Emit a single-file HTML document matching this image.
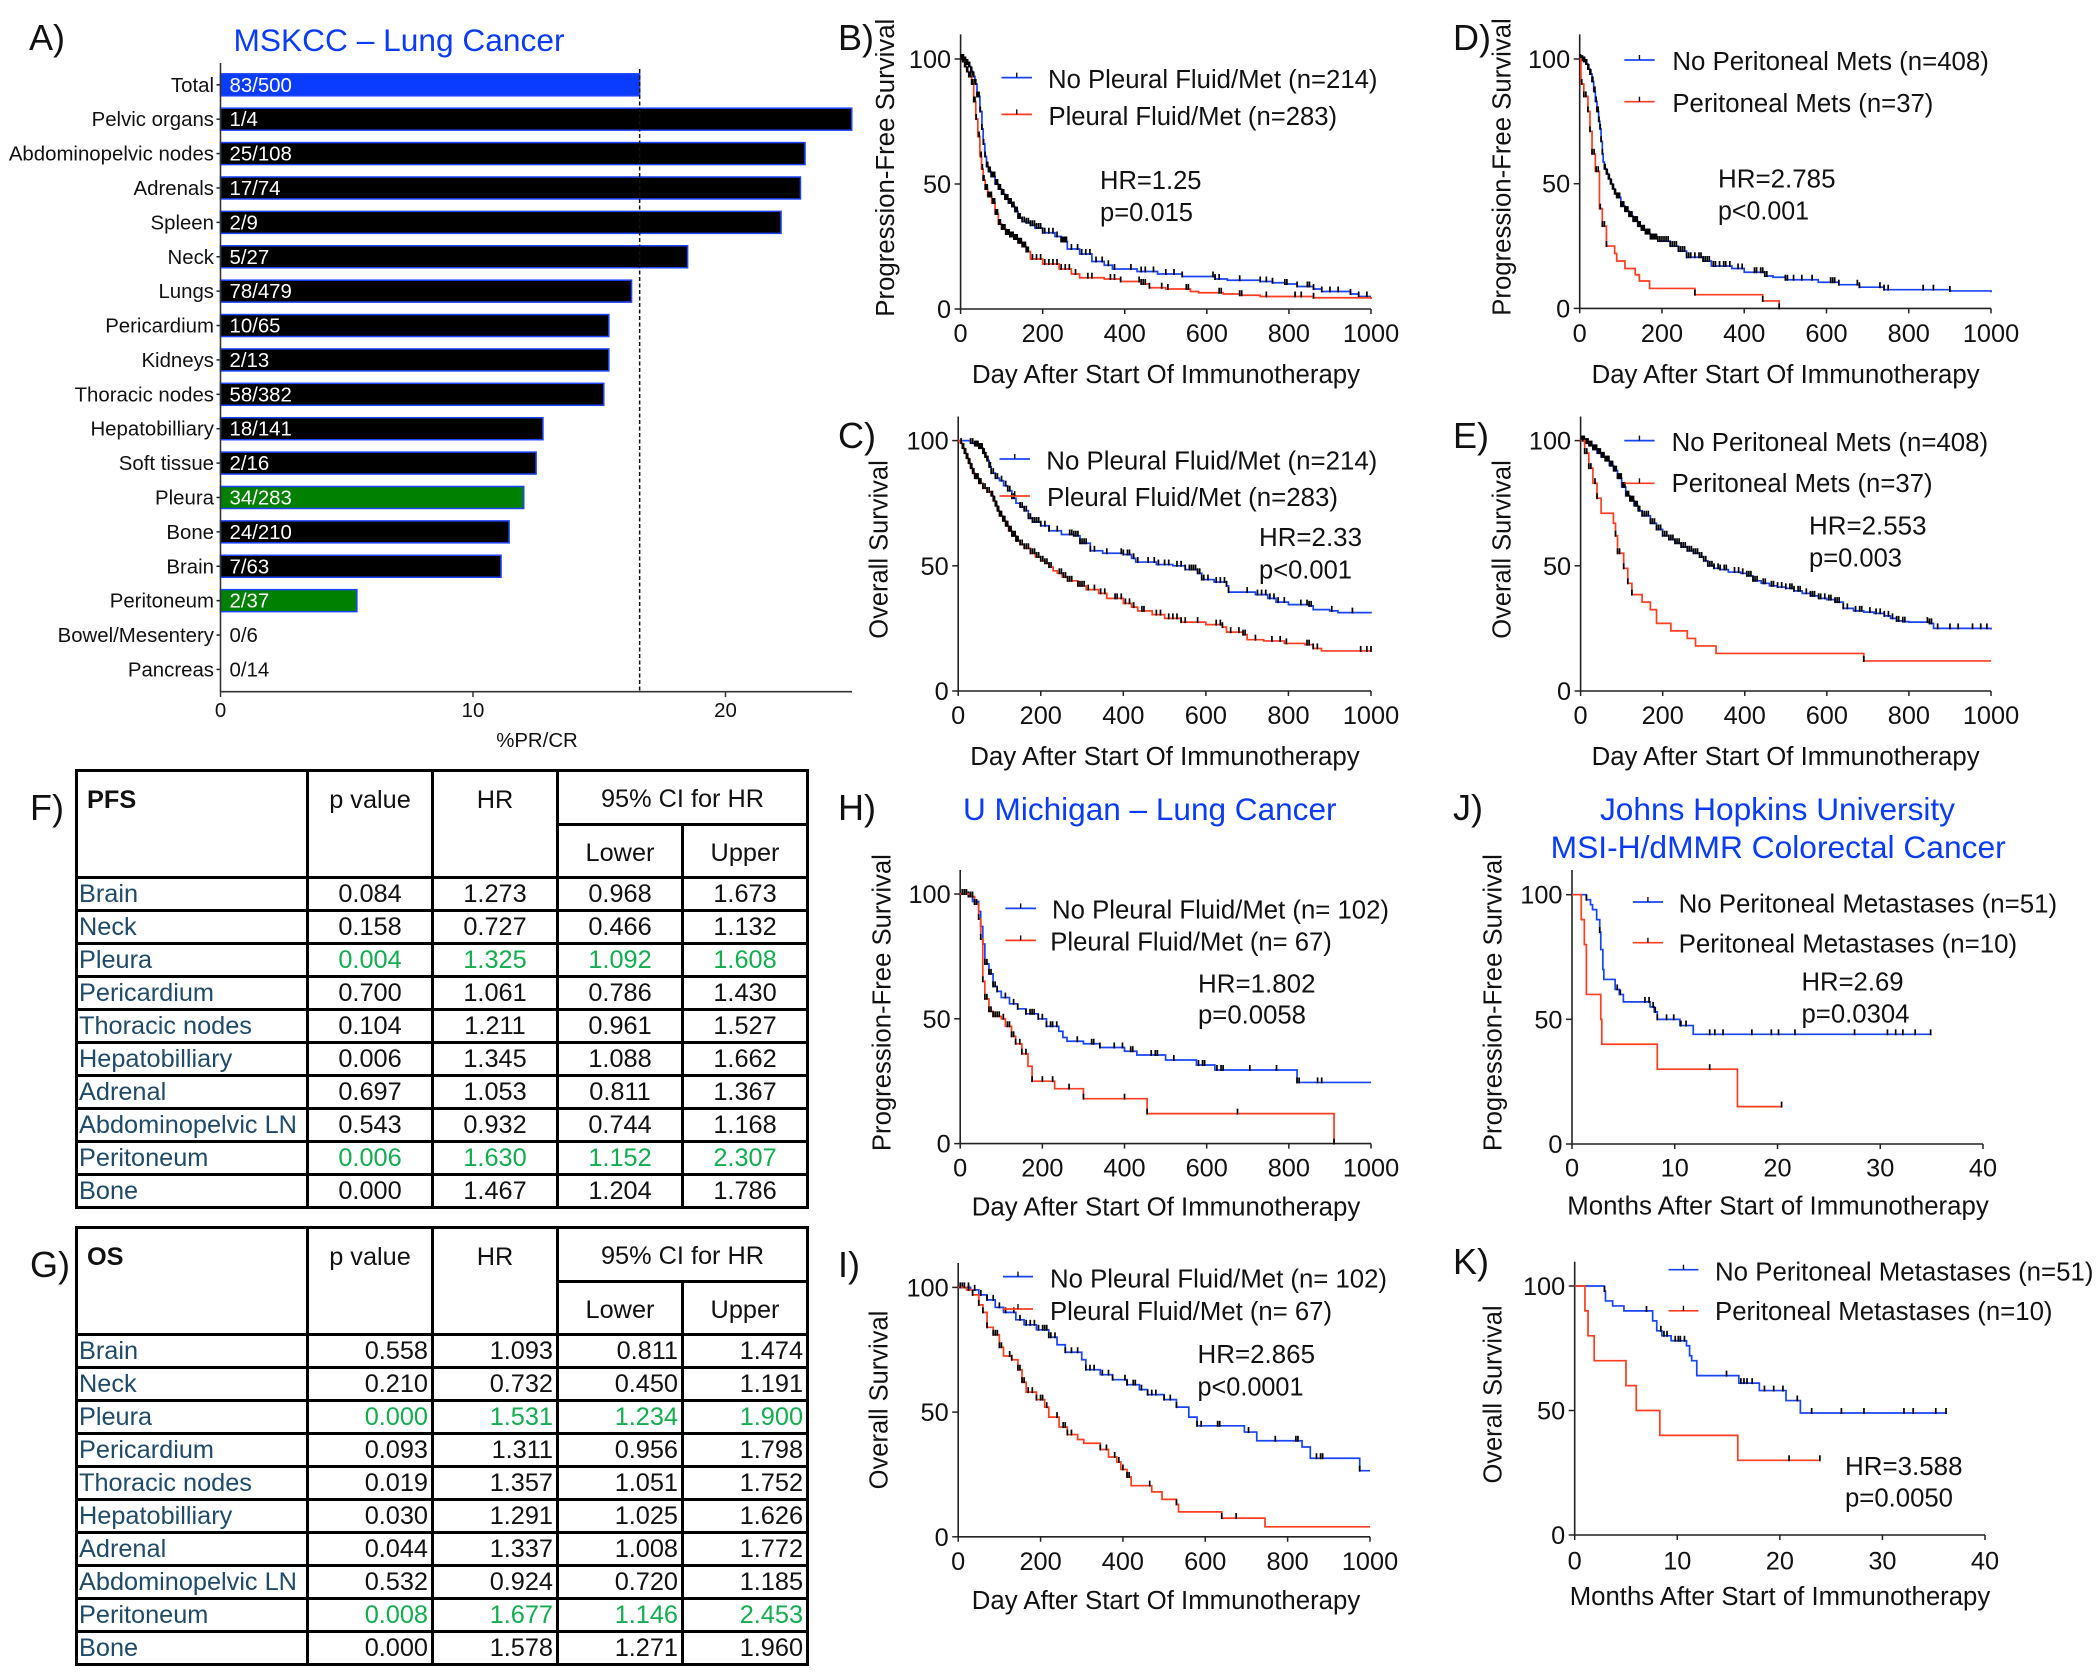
<!DOCTYPE html>
<html lang="en">
<head>
<meta charset="utf-8">
<title>Survival and response by metastatic site</title>
<style>
html,body{margin:0;padding:0;background:#fff}
#page{position:relative;width:2100px;height:1675px;overflow:hidden;background:#fff;font-family:"Liberation Sans",Arial,sans-serif}
#figure{position:absolute;left:0;top:0}
#figure text{font-family:"Liberation Sans",Arial,sans-serif;fill:#111}
#figure .blue-title{fill:#0a3cf5}
#figure .letter{font-size:36px}
#figure .t25{font-size:25.5px}
table.stat{position:absolute;border-collapse:collapse;table-layout:fixed;border:3.5px solid #000;font-size:25.3px;color:#111;background:#fff}
table.stat td{border:3px solid #000;padding:0;line-height:25px;overflow:hidden;white-space:nowrap;text-align:center;vertical-align:middle;box-sizing:border-box}
table.stat td.l{text-align:left;padding-left:1px;color:#1f4a68}
table.stat td.g{color:#12ad4f}
table.stat td.hd{vertical-align:top;padding-top:16px}
table.stat td.nm{font-weight:bold;text-align:left;padding-left:9px}
table.stat td.sub{padding-top:5px}
table.stat tr.r td{padding-top:2px}
table.stat.right tr.r td:not(.l){text-align:right;padding-right:3px}
</style>
</head>
<body>
<div id="page">
<svg id="figure" width="2100" height="1675" viewBox="0 0 2100 1675">
  <g>
    <text class="letter" x="29" y="50">A)</text>
    <text class="letter" x="838" y="50">B)</text>
    <text class="letter" x="838" y="448">C)</text>
    <text class="letter" x="1453" y="50">D)</text>
    <text class="letter" x="1453" y="448">E)</text>
    <text class="letter" x="30" y="820">F)</text>
    <text class="letter" x="30" y="1277">G)</text>
    <text class="letter" x="838" y="820">H)</text>
    <text class="letter" x="838" y="1277">I)</text>
    <text class="letter" x="1453" y="820">J)</text>
    <text class="letter" x="1453" y="1274">K)</text>
  </g>

  <text class="blue-title" x="233.5" y="51" font-size="31.5" textLength="331" lengthAdjust="spacingAndGlyphs">MSKCC – Lung Cancer</text>
  <text class="blue-title" x="963" y="820" font-size="31.5" textLength="373.5" lengthAdjust="spacingAndGlyphs">U Michigan – Lung Cancer</text>
  <text class="blue-title" x="1600" y="820" font-size="31.5" textLength="355" lengthAdjust="spacingAndGlyphs">Johns Hopkins University</text>
  <text class="blue-title" x="1550.7" y="858" font-size="31.5" textLength="455" lengthAdjust="spacingAndGlyphs">MSI-H/dMMR Colorectal Cancer</text>

  <g id="panel-a">
    <text x="537" y="747" font-size="20.4" text-anchor="middle">%PR/CR</text>
  </g>

  <g id="panel-b">
    <text class="t25" transform="translate(894,167.7) rotate(-90)" text-anchor="middle" textLength="298" lengthAdjust="spacingAndGlyphs">Progression-Free Survival</text>
    <text class="t25" x="1166" y="383" text-anchor="middle" textLength="388" lengthAdjust="spacingAndGlyphs">Day After Start Of Immunotherapy</text>
    <text class="t25" x="1048" y="88" textLength="329.5" lengthAdjust="spacingAndGlyphs">No Pleural Fluid/Met (n=214)</text>
    <text class="t25" x="1048.5" y="125" textLength="288.5" lengthAdjust="spacingAndGlyphs">Pleural Fluid/Met (n=283)</text>
    <text class="t25" x="1100" y="189" textLength="101.5" lengthAdjust="spacingAndGlyphs">HR=1.25</text>
    <text class="t25" x="1100" y="221" textLength="93" lengthAdjust="spacingAndGlyphs">p=0.015</text>
  </g>

  <g id="panel-c">
    <text class="t25" transform="translate(887.4,549.5) rotate(-90)" text-anchor="middle" textLength="178.5" lengthAdjust="spacingAndGlyphs">Overall Survival</text>
    <text class="t25" x="1165" y="765" text-anchor="middle" textLength="389.5" lengthAdjust="spacingAndGlyphs">Day After Start Of Immunotherapy</text>
    <text class="t25" x="1046.3" y="469.5" textLength="331" lengthAdjust="spacingAndGlyphs">No Pleural Fluid/Met (n=214)</text>
    <text class="t25" x="1047" y="506" textLength="291" lengthAdjust="spacingAndGlyphs">Pleural Fluid/Met (n=283)</text>
    <text class="t25" x="1259" y="546" textLength="103" lengthAdjust="spacingAndGlyphs">HR=2.33</text>
    <text class="t25" x="1259" y="578.6" textLength="93" lengthAdjust="spacingAndGlyphs">p&lt;0.001</text>
  </g>

  <g id="panel-d">
    <text class="t25" transform="translate(1510.7,167) rotate(-90)" text-anchor="middle" textLength="297.5" lengthAdjust="spacingAndGlyphs">Progression-Free Survival</text>
    <text class="t25" x="1785.6" y="383" text-anchor="middle" textLength="388" lengthAdjust="spacingAndGlyphs">Day After Start Of Immunotherapy</text>
    <text class="t25" x="1672.4" y="70" textLength="316.5" lengthAdjust="spacingAndGlyphs">No Peritoneal Mets (n=408)</text>
    <text class="t25" x="1672.4" y="112" textLength="261" lengthAdjust="spacingAndGlyphs">Peritoneal Mets (n=37)</text>
    <text class="t25" x="1718" y="187.6" textLength="117.5" lengthAdjust="spacingAndGlyphs">HR=2.785</text>
    <text class="t25" x="1718" y="219.5" textLength="91" lengthAdjust="spacingAndGlyphs">p&lt;0.001</text>
  </g>

  <g id="panel-e">
    <text class="t25" transform="translate(1510.7,549.5) rotate(-90)" text-anchor="middle" textLength="178.5" lengthAdjust="spacingAndGlyphs">Overall Survival</text>
    <text class="t25" x="1785.6" y="765" text-anchor="middle" textLength="388" lengthAdjust="spacingAndGlyphs">Day After Start Of Immunotherapy</text>
    <text class="t25" x="1671.6" y="451" textLength="316.5" lengthAdjust="spacingAndGlyphs">No Peritoneal Mets (n=408)</text>
    <text class="t25" x="1671.6" y="492" textLength="261" lengthAdjust="spacingAndGlyphs">Peritoneal Mets (n=37)</text>
    <text class="t25" x="1809" y="534.5" textLength="117.5" lengthAdjust="spacingAndGlyphs">HR=2.553</text>
    <text class="t25" x="1809" y="566.5" textLength="93" lengthAdjust="spacingAndGlyphs">p=0.003</text>
  </g>

  <g id="panel-h">
    <text class="t25" transform="translate(890.6,1002.6) rotate(-90)" text-anchor="middle" textLength="297" lengthAdjust="spacingAndGlyphs">Progression-Free Survival</text>
    <text class="t25" x="1166" y="1215.5" text-anchor="middle" textLength="388.5" lengthAdjust="spacingAndGlyphs">Day After Start Of Immunotherapy</text>
    <text class="t25" x="1052" y="918.7" textLength="337" lengthAdjust="spacingAndGlyphs">No Pleural Fluid/Met (n= 102)</text>
    <text class="t25" x="1050.3" y="950.7" textLength="281.5" lengthAdjust="spacingAndGlyphs">Pleural Fluid/Met (n= 67)</text>
    <text class="t25" x="1198" y="992.3" textLength="117.5" lengthAdjust="spacingAndGlyphs">HR=1.802</text>
    <text class="t25" x="1198" y="1023.7" textLength="108" lengthAdjust="spacingAndGlyphs">p=0.0058</text>
  </g>

  <g id="panel-i">
    <text class="t25" transform="translate(887.4,1400) rotate(-90)" text-anchor="middle" textLength="178.7" lengthAdjust="spacingAndGlyphs">Overall Survival</text>
    <text class="t25" x="1166" y="1609" text-anchor="middle" textLength="388.5" lengthAdjust="spacingAndGlyphs">Day After Start Of Immunotherapy</text>
    <text class="t25" x="1050" y="1287.4" textLength="337" lengthAdjust="spacingAndGlyphs">No Pleural Fluid/Met (n= 102)</text>
    <text class="t25" x="1050" y="1320" textLength="282" lengthAdjust="spacingAndGlyphs">Pleural Fluid/Met (n= 67)</text>
    <text class="t25" x="1197.5" y="1363" textLength="117.5" lengthAdjust="spacingAndGlyphs">HR=2.865</text>
    <text class="t25" x="1197.5" y="1395.3" textLength="106" lengthAdjust="spacingAndGlyphs">p&lt;0.0001</text>
  </g>

  <g id="panel-j">
    <text class="t25" transform="translate(1501.4,1002.6) rotate(-90)" text-anchor="middle" textLength="297" lengthAdjust="spacingAndGlyphs">Progression-Free Survival</text>
    <text class="t25" x="1778" y="1214.5" text-anchor="middle" textLength="421.5" lengthAdjust="spacingAndGlyphs">Months After Start of Immunotherapy</text>
    <text class="t25" x="1678.6" y="912.5" textLength="378.5" lengthAdjust="spacingAndGlyphs">No Peritoneal Metastases (n=51)</text>
    <text class="t25" x="1678.6" y="952.5" textLength="338.5" lengthAdjust="spacingAndGlyphs">Peritoneal Metastases (n=10)</text>
    <text class="t25" x="1801.5" y="990.6" textLength="102" lengthAdjust="spacingAndGlyphs">HR=2.69</text>
    <text class="t25" x="1801.5" y="1022.6" textLength="108" lengthAdjust="spacingAndGlyphs">p=0.0304</text>
  </g>

  <g id="panel-k">
    <text class="t25" transform="translate(1501.4,1394.5) rotate(-90)" text-anchor="middle" textLength="178" lengthAdjust="spacingAndGlyphs">Overall Survival</text>
    <text class="t25" x="1780" y="1605" text-anchor="middle" textLength="420.5" lengthAdjust="spacingAndGlyphs">Months After Start of Immunotherapy</text>
    <text class="t25" x="1715" y="1280.5" textLength="378.5" lengthAdjust="spacingAndGlyphs">No Peritoneal Metastases (n=51)</text>
    <text class="t25" x="1715" y="1320" textLength="337.5" lengthAdjust="spacingAndGlyphs">Peritoneal Metastases (n=10)</text>
    <text class="t25" x="1845" y="1475" textLength="117.5" lengthAdjust="spacingAndGlyphs">HR=3.588</text>
    <text class="t25" x="1845" y="1506.6" textLength="108" lengthAdjust="spacingAndGlyphs">p=0.0050</text>
  </g>
</svg>

<table class="stat" style="left:75px;top:768.5px;width:731px">
<colgroup><col style="width:231px"><col style="width:125px"><col style="width:125px"><col style="width:125px"><col style="width:125px"></colgroup>
<tr style="height:54px"><td class="hd nm" rowspan="2">PFS</td><td class="hd" rowspan="2">p value</td><td class="hd" rowspan="2">HR</td><td colspan="2" class="sub">95% CI for HR</td></tr>
<tr style="height:53px"><td class="sub">Lower</td><td class="sub">Upper</td></tr>
<tr class="r" style="height:33px"><td class="l">Brain</td><td>0.084</td><td>1.273</td><td>0.968</td><td>1.673</td></tr>
<tr class="r" style="height:33px"><td class="l">Neck</td><td>0.158</td><td>0.727</td><td>0.466</td><td>1.132</td></tr>
<tr class="r" style="height:33px"><td class="l">Pleura</td><td class="g">0.004</td><td class="g">1.325</td><td class="g">1.092</td><td class="g">1.608</td></tr>
<tr class="r" style="height:33px"><td class="l">Pericardium</td><td>0.700</td><td>1.061</td><td>0.786</td><td>1.430</td></tr>
<tr class="r" style="height:33px"><td class="l">Thoracic nodes</td><td>0.104</td><td>1.211</td><td>0.961</td><td>1.527</td></tr>
<tr class="r" style="height:33px"><td class="l">Hepatobilliary</td><td>0.006</td><td>1.345</td><td>1.088</td><td>1.662</td></tr>
<tr class="r" style="height:33px"><td class="l">Adrenal</td><td>0.697</td><td>1.053</td><td>0.811</td><td>1.367</td></tr>
<tr class="r" style="height:33px"><td class="l">Abdominopelvic LN</td><td>0.543</td><td>0.932</td><td>0.744</td><td>1.168</td></tr>
<tr class="r" style="height:33px"><td class="l">Peritoneum</td><td class="g">0.006</td><td class="g">1.630</td><td class="g">1.152</td><td class="g">2.307</td></tr>
<tr class="r" style="height:33px"><td class="l">Bone</td><td>0.000</td><td>1.467</td><td>1.204</td><td>1.786</td></tr>
</table>

<table class="stat right" style="left:75px;top:1225.5px;width:731px">
<colgroup><col style="width:231px"><col style="width:125px"><col style="width:125px"><col style="width:125px"><col style="width:125px"></colgroup>
<tr style="height:54px"><td class="hd nm" rowspan="2">OS</td><td class="hd" rowspan="2">p value</td><td class="hd" rowspan="2">HR</td><td colspan="2" class="sub">95% CI for HR</td></tr>
<tr style="height:53px"><td class="sub">Lower</td><td class="sub">Upper</td></tr>
<tr class="r" style="height:33px"><td class="l">Brain</td><td>0.558</td><td>1.093</td><td>0.811</td><td>1.474</td></tr>
<tr class="r" style="height:33px"><td class="l">Neck</td><td>0.210</td><td>0.732</td><td>0.450</td><td>1.191</td></tr>
<tr class="r" style="height:33px"><td class="l">Pleura</td><td class="g">0.000</td><td class="g">1.531</td><td class="g">1.234</td><td class="g">1.900</td></tr>
<tr class="r" style="height:33px"><td class="l">Pericardium</td><td>0.093</td><td>1.311</td><td>0.956</td><td>1.798</td></tr>
<tr class="r" style="height:33px"><td class="l">Thoracic nodes</td><td>0.019</td><td>1.357</td><td>1.051</td><td>1.752</td></tr>
<tr class="r" style="height:33px"><td class="l">Hepatobilliary</td><td>0.030</td><td>1.291</td><td>1.025</td><td>1.626</td></tr>
<tr class="r" style="height:33px"><td class="l">Adrenal</td><td>0.044</td><td>1.337</td><td>1.008</td><td>1.772</td></tr>
<tr class="r" style="height:33px"><td class="l">Abdominopelvic LN</td><td>0.532</td><td>0.924</td><td>0.720</td><td>1.185</td></tr>
<tr class="r" style="height:33px"><td class="l">Peritoneum</td><td class="g">0.008</td><td class="g">1.677</td><td class="g">1.146</td><td class="g">2.453</td></tr>
<tr class="r" style="height:33px"><td class="l">Bone</td><td>0.000</td><td>1.578</td><td>1.271</td><td>1.960</td></tr>
</table>
</div>

<script>
// ---- Panel A data ----
const barCategories = ["Total","Pelvic organs","Abdominopelvic nodes","Adrenals","Spleen","Neck","Lungs","Pericardium","Kidneys","Thoracic nodes","Hepatobilliary","Soft tissue","Pleura","Bone","Brain","Peritoneum","Bowel/Mesentery","Pancreas"];
const barCounts = ["83/500","1/4","25/108","17/74","2/9","5/27","78/479","10/65","2/13","58/382","18/141","2/16","34/283","24/210","7/63","2/37","0/6","0/14"];
const barValues = [16.6,25,23.15,22.97,22.2,18.5,16.28,15.38,15.38,15.18,12.77,12.5,12.01,11.43,11.11,5.4,0,0];
const barGroups = ["total","site","site","site","site","site","site","site","site","site","site","site","highlight","site","site","highlight","site","site"];
const barTickLabels = [0,10,20];
const overallResponse = 16.6;

// ---- Kaplan-Meier axes ----
const dayTicks = [0,200,400,600,800,1000];
const monthTicks = [0,10,20,30,40];
const survivalTicks = [0,50,100];

// ---- Panel B ----
const bBlueTime = [5,10,15,20,25,30,35,40,47,52,55,59,63,68,74,84,92,100,108,116,125,132,140,150,160,170,181,200,230,245,260,290,320,350,370,430,480,540,620,650,730,760,790,820,860,880,950,970,1000];
const bBlueSurv = [100,99,98,97,95,93,90,85,79,72,66,61,57,55,53,50,48,46,44,42.4,41,39,36.4,35,34.5,33.5,32.4,30.5,29,27,24,22,19,17.5,16,15,14,13,12,11.5,11,10.5,10,9,8,7,6,5,5];
const bBlueCensor = [2,5,7,10,12,15,17,20,22,25,27,30,32,35,37,40,42,45,48,52,56,60,64,66,68,70,72,75,78,80,83,85,88,90,92,95,97,100,102,105,108,110,112,115,118,120,123,125,128,130,133,135,138,140,143,145,150,155,160,165,170,175,180,185,190,195,200,205,215,225,235,245,248,250,253,255,258,270,285,295,305,315,330,345,360,375,415,440,450,470,500,520,540,615,620,630,680,730,745,760,790,795,820,845,850,860,880,900,920,950,970,990];
const bRedTime = [5,10,15,20,27,32,37,42,47,51,55,60,66,76,84,92,100,110,120,130,140,150,160,170,200,240,270,290,350,390,440,460,500,560,580,640,680,730,860,1000];
const bRedSurv = [99,97,95,93,90,83,76,69,61,56,51.6,48,45,42.4,38,34,32,30,29,28,26.5,25,23,20,18,16,14,12.5,12,11,10,8.5,8,7,6.5,6,5.5,5,4.5,4];
const bRedCensor = [2,5,7,10,12,15,17,20,22,25,27,30,32,35,38,45,50,53,55,57,60,62,65,67,70,72,75,78,80,83,85,87,90,93,95,97,100,103,105,108,110,113,115,118,120,123,125,128,130,133,135,138,140,143,145,148,150,153,155,158,160,163,165,175,185,195,205,215,225,235,245,255,265,280,310,320,365,375,390,435,440,445,450,460,490,505,550,555,630,635,680,685,745,815,830,860];

// ---- Panel C ----
const cBlueTime = [10,20,30,40,50,60,65,70,75,80,90,100,110,120,130,140,150,160,170,180,200,220,250,280,295,320,350,400,420,430,480,520,550,580,590,620,650,655,720,750,770,800,850,860,900,920,1000];
const cBlueSurv = [100,100,99,98,97,95,93.5,92,89.5,87,85,84,82,80,77,75,73.5,72,69,67.5,66,64,62.5,62,59,56,55,54.5,53,51.5,50.5,50,48.5,47,44.5,43.5,42,39.5,38.5,37,35.5,34.5,34,32.5,32,31.3,31];
const cBlueCensor = [30,35,40,43,45,48,50,53,55,58,60,63,65,67,70,72,75,78,80,85,90,95,105,115,120,125,130,135,150,155,160,165,170,175,180,185,190,195,200,210,220,240,270,275,280,285,290,295,300,305,310,320,330,360,395,400,410,415,425,435,460,475,485,500,510,530,540,550,560,565,570,575,580,585,590,595,605,625,635,645,650,655,700,725,735,745,755,765,775,790,830,845,850,855,905,955];
const cRedTime = [5,10,15,20,25,30,35,40,50,60,70,80,85,90,95,100,108,115,122,130,140,150,160,175,187,200,210,220,230,240,252,265,290,310,340,360,400,420,435,470,500,540,600,640,650,690,700,740,790,840,860,880,1000];
const cRedSurv = [99,97,95,93,91,89,87,85,83,81,79.5,78,76,74,72,70,68,66,64,62,60,58.5,57,55,53.5,52,51,49.5,48,47,45.5,44,42,40.5,39,37,35,33.5,32,30.5,29,27.5,26.5,25.5,23.5,22.5,20.5,20,19,18.5,17,16,16];
const cRedCensor = [7,10,13,15,18,20,23,25,28,30,33,35,38,40,43,45,48,50,53,55,60,65,70,75,80,83,85,88,90,93,95,98,100,103,105,108,110,113,115,118,120,123,125,128,130,133,135,138,140,143,145,150,155,160,165,170,175,180,185,190,195,200,205,210,215,220,225,245,250,255,260,265,270,275,290,295,300,305,315,330,345,355,380,385,395,405,415,425,445,450,480,490,510,520,530,540,550,580,625,635,640,660,680,690,695,720,760,780,795,845,850,860,870,975,990,1000];

// ---- Panel D ----
const dBlueTime = [5,10,15,20,25,30,34,38,42,46,49,52,55,57,60,65,70,75,80,85,90,100,110,120,130,141,150,160,172,190,220,240,260,300,320,370,400,450,470,500,580,630,680,740,900,1000];
const dBlueSurv = [99.5,99,98,96,94,91,87,83,79,75,72,67,62,58.7,56,54,52,50,48,46,44.5,41,39,37,35,33,31.5,30,28,27,25,23,20.5,19,17,16,14.5,13,12.5,11.5,10.5,9.5,8.5,7.5,7,6.5];
const dBlueCensor = [2,5,7,10,12,15,17,20,22,25,27,30,32,35,37,40,42,45,47,50,52,55,60,62,65,67,70,72,75,77,80,82,85,87,90,92,95,97,100,102,105,107,110,112,115,117,120,122,125,127,130,132,135,137,140,142,145,147,150,152,155,157,160,162,165,167,170,172,175,177,180,182,185,187,190,195,200,205,210,215,220,225,230,235,240,245,250,255,260,265,270,280,290,295,300,305,310,315,325,330,340,350,355,365,385,395,425,430,440,445,450,455,500,505,520,540,565,610,615,620,630,675,680,730,740,750,835,860,900];
const dRedTime = [3,10,20,25,30,38,48,55,65,85,90,110,135,145,170,280,445,485];
const dRedSurv = [90,85,79,71,62,55,40,33,25,22,19,16,13.5,11,8,5.5,3,0];
const dRedCensor = [5,10,15,20,25,30,35,40,45,50,55,60,65,280,445,485];

// ---- Panel E ----
const eBlueTime = [10,20,30,40,50,60,70,80,90,100,110,120,130,140,150,170,185,200,215,230,245,260,275,290,300,310,325,340,360,390,405,420,440,460,480,500,520,540,560,580,600,620,640,665,690,715,740,755,770,785,800,850,860,1000];
const eBlueSurv = [99,98,96.5,95,93.5,92,90,88,85,81.5,78,76,74,72,70,67,64.5,62,60.5,59,57.5,56,55,53.5,52,50,49,48.5,47.5,47,46,44,43,42,41.5,41,40,39,38,37,36.5,35.5,33,32,31.5,31,30,29,28,27.7,27.5,27,25,24.5];
const eBlueCensor = [3,6,9,12,15,18,21,24,27,30,33,36,39,42,45,48,51,54,57,60,63,66,69,72,75,78,81,84,87,90,93,96,99,102,105,108,111,114,117,120,123,126,129,132,135,138,141,144,150,155,160,165,170,175,180,185,190,195,200,205,210,215,220,225,230,235,240,245,250,255,260,265,270,275,280,285,290,295,300,305,310,315,320,325,335,340,350,355,375,385,395,405,410,415,420,425,430,445,450,465,470,480,490,500,510,515,520,530,535,550,560,565,570,580,585,595,605,610,620,625,630,640,650,670,680,685,705,720,730,740,750,760,770,775,785,790,845,850,855,870,900,920,955,975,990];
const eRedTime = [10,20,30,40,50,80,85,90,105,115,125,150,170,185,220,260,280,330,690,1000];
const eRedSurv = [95,89,83,77,71,67,62,55,49,43,38.5,35.5,32.5,27,24,21,18,15,12,12];
const eRedCensor = [5,10,15,20,25,35,40,85,90,95,105,115,125,690];

// ---- Panel H ----
const hBlueTime = [20,30,45,50,55,60,70,80,90,100,120,140,160,190,210,240,250,260,300,340,400,430,500,575,620,820,1000];
const hBlueSurv = [99,97,93,87,80,72,68,63,61,58.5,56,54,52,50,47,45,42.5,41,40,38.5,37,35.5,33.5,31.5,29.5,24.5,24.5];
const hBlueCensor = [10,15,20,35,50,55,60,65,70,75,80,85,90,110,130,140,160,170,175,180,190,200,210,220,225,235,285,320,325,340,375,395,415,420,465,475,480,520,580,590,595,625,635,640,705,770,820,825,870,880];
const hRedTime = [25,35,45,50,55,60,70,80,100,110,125,135,150,165,175,230,300,455,910];
const hRedSurv = [99,96,90,82,65,58,53,51,50,47,43,40,36,31,25,22,18,12,0];
const hRedCensor = [5,10,15,25,30,35,40,45,50,55,60,65,70,75,80,85,90,95,105,115,120,125,130,135,145,150,160,175,200,225,265,300,400,455,675,910];

// ---- Panel I ----
const iBlueTime = [30,50,70,90,110,140,160,190,220,240,260,300,310,345,375,410,440,460,500,530,560,580,695,725,835,855,975,1000];
const iBlueSurv = [99,97,95,92,90,87,85,83,80,77,74,71,67,65,63,61,59,57,55,52,48,44.5,42,38.5,36,31.5,26.5,26.5];
const iBlueCensor = [10,25,40,55,70,85,100,115,135,150,165,175,185,195,205,210,215,220,225,235,260,275,290,310,320,330,350,365,375,405,410,425,430,445,460,470,480,500,515,530,580,590,630,635,705,770,820,825,870,880,885,975];
const iRedTime = [20,35,50,60,70,85,100,110,130,145,155,165,190,210,220,245,265,290,305,345,365,385,395,410,420,470,495,530,535,640,745,1000];
const iRedSurv = [99,97,93,90,84,81,76,72.5,71,67,62,58,55,52,48,44,41,39,37.5,35,32,30,27,24,20.5,18,15,13,10,7.5,4,4];
const iRedCensor = [5,15,25,35,50,60,70,85,90,95,100,105,125,130,145,150,155,160,170,180,190,200,205,215,240,255,260,265,275,345,360,380,390,400,410,415,465,530,640,675];

// ---- Panel J ----
const jBlueTime = [1.4,1.8,2,2.4,2.7,2.8,3,3.1,4.2,4.6,5,7.6,8,8.3,10.5,11.8,35];
const jBlueSurv = [98,96,94,90,85,78,70,66,62,60,57,55,53,50,47.5,44,44];
const jBlueCensor = [1.4,2.7,4.4,4.7,7.1,7.5,7.9,8.1,8.3,9.2,9.9,10.6,11.1,13.4,13.9,14.7,17.5,19.4,20.1,21.7,27.5,30.7,31.5,32.2,33.4,34.9];
const jRedTime = [0.9,1.2,1.4,2.8,2.9,8.3,16.1,20.4];
const jRedSurv = [90,80,60,50,40,30,15,15];
const jRedCensor = [13.4,20.4];

// ---- Panel K ----
const kBlueTime = [2.9,3,3.7,4.8,7.6,8,8.5,9.4,10.9,11.2,11.4,11.9,16,18,20.6,22,36.3];
const kBlueSurv = [98,94,92,90,86,82,80,78,76,72,70,64,61,58,54,49,49];
const kBlueCensor = [2.9,7,8.4,8.7,9,9.8,10.1,10.3,10.7,14.8,16.2,16.5,16.8,17.3,18.5,19.4,20.3,21.7,23.1,26,28.2,32.1,33,35.2,36.2];
const kRedTime = [1,1.3,1.9,5,6,8.3,15.9,23.9];
const kRedSurv = [90,80,70,60,50,40,30,30];
const kRedCensor = [20.9,23.9];

const SVG_NS = "http://www.w3.org/2000/svg";
const BLUE = "#1744f5";
const RED = "#ff3d1f";

function addLine(parent, x1, y1, x2, y2, color, width) {
  const el = document.createElementNS(SVG_NS, "line");
  el.setAttribute("x1", x1);
  el.setAttribute("y1", y1);
  el.setAttribute("x2", x2);
  el.setAttribute("y2", y2);
  el.setAttribute("stroke", color);
  el.setAttribute("stroke-width", width);
  parent.appendChild(el);
  return el;
}
function addText(parent, x, y, str, size, anchor, color) {
  const el = document.createElementNS(SVG_NS, "text");
  el.setAttribute("x", x);
  el.setAttribute("y", y);
  el.setAttribute("font-size", size);
  el.setAttribute("text-anchor", anchor);
  if (color) el.style.fill = color;
  el.textContent = str;
  parent.appendChild(el);
  return el;
}

// ---- Bar chart ----
(function drawBars() {
  const g = document.getElementById("panel-a");
  const x = v => 220.5 + v * 25.25;
  const yFor = i => 84.8 + i * 34.39;
  const fills = { total: "#0a3cff", site: "#000000", highlight: "#008000" };
  barCategories.forEach((name, i) => {
    const y = yFor(i);
    if (barValues[i] > 0) {
      const bar = document.createElementNS(SVG_NS, "rect");
      bar.setAttribute("x", x(0));
      bar.setAttribute("y", y - 11);
      bar.setAttribute("width", x(barValues[i]) - x(0));
      bar.setAttribute("height", 22);
      bar.setAttribute("fill", fills[barGroups[i]]);
      bar.setAttribute("stroke", "#1d45ff");
      bar.setAttribute("stroke-width", 1.5);
      
      
      g.appendChild(bar);
    }
    const tick = addLine(g, x(0) - 4, y, x(0), y, "#222", 1.5);
    
    
    const label = addText(g, 214, y + 7, name, 20.4, "end");
    
    
    const count = addText(g, 229.5, y + 7, barCounts[i], 20.4, "start", barValues[i] > 0 ? "#ffffff" : "#111111");
    
    
  });
  const ref = addLine(g, x(overallResponse), 69, x(overallResponse), 691.7, "#111", 1.5);
  ref.setAttribute("stroke-dasharray", "4 2.5");
  
  
  const yAxis = addLine(g, x(0), 63, x(0), 692, "#333", 1.6);
  
  
  const xAxis = addLine(g, x(0), 691.7, 852, 691.7, "#333", 1.6);
  
  
  barTickLabels.forEach(v => {
    const t = addLine(g, x(v), 691.7, x(v), 697, "#333", 1.5);
    
    
    const l = addText(g, x(v), 717, v, 20.4, "middle");
    
    
  });
})();

// ---- Kaplan-Meier ----
function survivalAt(times, surv, t) {
  let s = 100;
  for (let i = 0; i < times.length; i++) {
    if (times[i] <= t) s = surv[i]; else break;
  }
  return s;
}
function drawCurve(g, sx, sy, times, surv, censor, color, name) {
  let d = "M" + sx(0) + " " + sy(100);
  times.forEach((t, i) => {
    d += "H" + sx(t) + "V" + sy(surv[i]);
  });
  const path = document.createElementNS(SVG_NS, "path");
  path.setAttribute("d", d);
  path.setAttribute("fill", "none");
  path.setAttribute("stroke", color);
  path.setAttribute("stroke-width", 1.7);
  
  
  g.appendChild(path);
  censor.forEach(t => {
    const y = sy(survivalAt(times, surv, t));
    const c = addLine(g, sx(t), y - 5, sx(t), y + 1, "#000", 1.7);
    
    
  });
}
function drawPanel(id, box, xTicks, xMax, blue, red, legend) {
  const g = document.getElementById(id);
  const sx = v => box.x0 + (box.x1 - box.x0) * v / xMax;
  const sy = v => box.y0 - (box.y0 - box.y100) * v / 100;
  const yAxis = addLine(g, box.x0, box.top, box.x0, box.y0 + 0.8, "#222", 1.6);
  
  
  const xAxis = addLine(g, box.x0, box.y0, box.x1, box.y0, "#222", 1.6);
  
  
  xTicks.forEach(v => {
    const t = addLine(g, sx(v), box.y0, sx(v), box.y0 + 5, "#222", 1.5);
    
    
    const l = addText(g, sx(v), box.tickBase, v, 25.3, "middle");
    
    
  });
  survivalTicks.forEach(v => {
    const t = addLine(g, box.x0 - 6, sy(v), box.x0, sy(v), "#222", 1.5);
    
    
    const l = addText(g, box.x0 - 9.5, sy(v) + 9, v, 25.3, "end");
    
    
  });
  drawCurve(g, sx, sy, blue[0], blue[1], blue[2], BLUE, "no-metastasis");
  drawCurve(g, sx, sy, red[0], red[1], red[2], RED, "metastasis");
  [[legend.y1, BLUE], [legend.y2, RED]].forEach(pair => {
    const sw = addLine(g, legend.x1, pair[0], legend.x2, pair[0], pair[1], 1.7);
    
    
    const mid = (legend.x1 + legend.x2) / 2;
    const m = addLine(g, mid, pair[0] - 5, mid, pair[0], "#111", 1.4);
    
    
  });
}

drawPanel("panel-b", {x0:960.6,x1:1371,y0:309,y100:59,top:34.4,tickBase:342}, dayTicks, 1000,
  [bBlueTime,bBlueSurv,bBlueCensor], [bRedTime,bRedSurv,bRedCensor], {x1:1001.5,x2:1032,y1:77.6,y2:114.4});
drawPanel("panel-c", {x0:958.2,x1:1371,y0:691,y100:440.6,top:416.5,tickBase:724}, dayTicks, 1000,
  [cBlueTime,cBlueSurv,cBlueCensor], [cRedTime,cRedSurv,cRedCensor], {x1:999.5,x2:1030,y1:459,y2:496});
drawPanel("panel-d", {x0:1579.7,x1:1991,y0:308.4,y100:59,top:34.4,tickBase:342}, dayTicks, 1000,
  [dBlueTime,dBlueSurv,dBlueCensor], [dRedTime,dRedSurv,dRedCensor], {x1:1624.3,x2:1654.6,y1:60,y2:101.7});
drawPanel("panel-e", {x0:1580.6,x1:1991,y0:691,y100:440.6,top:416.5,tickBase:724}, dayTicks, 1000,
  [eBlueTime,eBlueSurv,eBlueCensor], [eRedTime,eRedSurv,eRedCensor], {x1:1624.3,x2:1654.6,y1:440.6,y2:483.3});
drawPanel("panel-h", {x0:960.2,x1:1371,y0:1143.6,y100:894,top:870,tickBase:1176.7}, dayTicks, 1000,
  [hBlueTime,hBlueSurv,hBlueCensor], [hRedTime,hRedSurv,hRedCensor], {x1:1005.3,x2:1036,y1:908.4,y2:940.4});
drawPanel("panel-i", {x0:958.2,x1:1370,y0:1536.8,y100:1287.4,top:1263,tickBase:1570}, dayTicks, 1000,
  [iBlueTime,iBlueSurv,iBlueCensor], [iRedTime,iRedSurv,iRedCensor], {x1:1003,x2:1033,y1:1276.6,y2:1309});
drawPanel("panel-j", {x0:1572,x1:1983,y0:1144,y100:894.7,top:870,tickBase:1176.7}, monthTicks, 40,
  [jBlueTime,jBlueSurv,jBlueCensor], [jRedTime,jRedSurv,jRedCensor], {x1:1632.8,x2:1663,y1:902,y2:942.7});
drawPanel("panel-k", {x0:1574.7,x1:1985,y0:1535,y100:1286,top:1261.7,tickBase:1569.4}, monthTicks, 40,
  [kBlueTime,kBlueSurv,kBlueCensor], [kRedTime,kRedSurv,kRedCensor], {x1:1668.5,x2:1698.4,y1:1269.7,y2:1310.8});
</script>
</body>
</html>
